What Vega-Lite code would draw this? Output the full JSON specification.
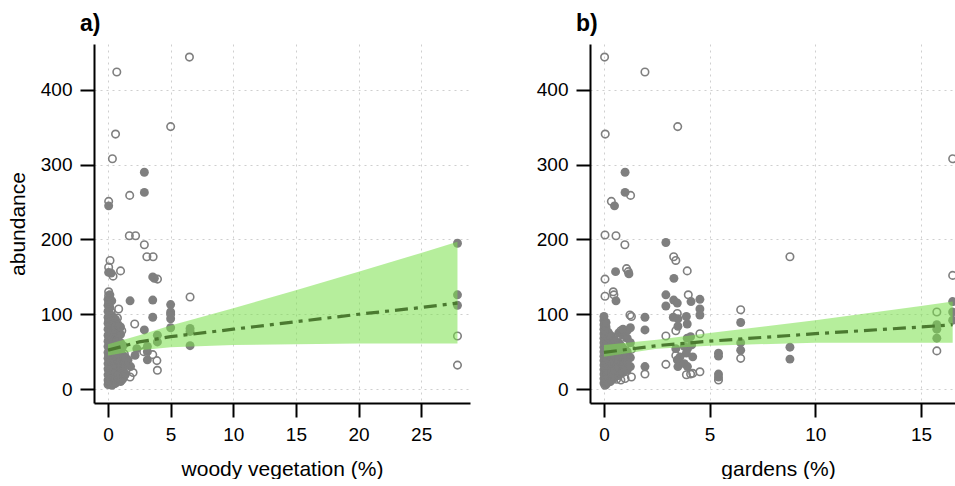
{
  "$schema": "https://vega.github.io/schema/vega-lite/v6.json",
  "padding": {"left": 7, "top": 13, "right": 0, "bottom": 0},
  "bounds": "flush",
  "spacing": 120,
  "config": {
    "view": {"stroke": null},
    "font": "Liberation Sans",
    "axis": {
      "domainColor": "black", "domainWidth": 2, "tickColor": "black", "tickWidth": 2, "tickSize": 14,
      "labelFont": "Liberation Sans", "labelFontSize": 19, "labelColor": "black", "labelPadding": 8,
      "titleFont": "Liberation Sans", "titleFontSize": 21, "titleFontWeight": "normal", "titleColor": "black",
      "gridColor": "#cfcfcf", "gridDash": [2, 4], "gridWidth": 1
    },
    "title": {"font": "Liberation Sans", "fontSize": 23, "fontWeight": "bold", "color": "black", "anchor": "start", "frame": "group", "dx": -14, "offset": 8}
  },
  "datasets": {
    "woody": [
      {"x":0.7,"y":424,"t":"o"},{"x":6.5,"y":444,"t":"o"},{"x":0.6,"y":341,"t":"o"},{"x":0.35,"y":308,"t":"o"},{"x":5.0,"y":351,"t":"o"},
      {"x":2.9,"y":290,"t":"f"},{"x":2.9,"y":263,"t":"f"},{"x":1.73,"y":259,"t":"o"},{"x":0.05,"y":251,"t":"o"},{"x":0.05,"y":245,"t":"f"},
      {"x":1.7,"y":205,"t":"o"},{"x":2.2,"y":205,"t":"o"},{"x":2.9,"y":193,"t":"o"},{"x":3.1,"y":177,"t":"o"},{"x":3.6,"y":177,"t":"o"},
      {"x":0.16,"y":172,"t":"o"},{"x":0.05,"y":163,"t":"o"},{"x":0.05,"y":156,"t":"f"},{"x":0.25,"y":155,"t":"f"},{"x":0.4,"y":151,"t":"o"},
      {"x":1.0,"y":158,"t":"o"},{"x":3.57,"y":150,"t":"f"},{"x":3.7,"y":148,"t":"f"},{"x":3.95,"y":147,"t":"o"},{"x":0.05,"y":130,"t":"o"},
      {"x":1.76,"y":118,"t":"f"},{"x":3.57,"y":119,"t":"f"},{"x":5.0,"y":113,"t":"f"},{"x":5.0,"y":103,"t":"f"},{"x":5.0,"y":100,"t":"o"},
      {"x":5.0,"y":94,"t":"f"},{"x":3.57,"y":96,"t":"f"},{"x":0.85,"y":107,"t":"o"},{"x":2.13,"y":87,"t":"o"},{"x":5.0,"y":82,"t":"f"},
      {"x":2.9,"y":79,"t":"f"},{"x":3.94,"y":72,"t":"f"},{"x":3.94,"y":63,"t":"f"},{"x":2.3,"y":54,"t":"f"},{"x":2.16,"y":45,"t":"f"},
      {"x":2.85,"y":50,"t":"o"},{"x":3.14,"y":57,"t":"f"},{"x":3.14,"y":50,"t":"f"},{"x":3.14,"y":39,"t":"f"},{"x":3.57,"y":46,"t":"o"},
      {"x":3.9,"y":38,"t":"o"},{"x":3.94,"y":25,"t":"o"},{"x":1.6,"y":39,"t":"f"},{"x":1.8,"y":30,"t":"f"},{"x":1.76,"y":16,"t":"o"},
      {"x":6.55,"y":123,"t":"o"},{"x":6.55,"y":81,"t":"f"},{"x":6.55,"y":77,"t":"f"},{"x":6.55,"y":58,"t":"f"},
      {"x":27.9,"y":195,"t":"f"},{"x":27.9,"y":126,"t":"f"},{"x":27.9,"y":112,"t":"f"},{"x":27.9,"y":71,"t":"o"},{"x":27.9,"y":32,"t":"o"},
      {"x":0,"y":6,"t":"f"},{"x":0,"y":12,"t":"f"},{"x":0,"y":19,"t":"f"},{"x":0,"y":27,"t":"f"},{"x":0,"y":34,"t":"f"},{"x":0,"y":41,"t":"f"},
      {"x":0,"y":49,"t":"f"},{"x":0,"y":57,"t":"f"},{"x":0,"y":64,"t":"f"},{"x":0,"y":72,"t":"f"},{"x":0,"y":80,"t":"f"},{"x":0,"y":88,"t":"f"},
      {"x":0,"y":96,"t":"f"},{"x":0,"y":104,"t":"f"},{"x":0,"y":112,"t":"f"},{"x":0,"y":120,"t":"f"},
      {"x":0.15,"y":9,"t":"f"},{"x":0.15,"y":16,"t":"f"},{"x":0.15,"y":23,"t":"f"},{"x":0.15,"y":31,"t":"f"},{"x":0.15,"y":38,"t":"f"},
      {"x":0.15,"y":46,"t":"f"},{"x":0.15,"y":53,"t":"f"},{"x":0.15,"y":61,"t":"f"},{"x":0.15,"y":69,"t":"f"},{"x":0.15,"y":77,"t":"f"},
      {"x":0.15,"y":85,"t":"f"},{"x":0.15,"y":92,"t":"f"},{"x":0.15,"y":100,"t":"f"},{"x":0.15,"y":109,"t":"f"},{"x":0.15,"y":126,"t":"f"},
      {"x":0.3,"y":5,"t":"f"},{"x":0.3,"y":14,"t":"f"},{"x":0.3,"y":21,"t":"f"},{"x":0.3,"y":29,"t":"f"},{"x":0.3,"y":36,"t":"f"},
      {"x":0.3,"y":44,"t":"f"},{"x":0.3,"y":51,"t":"f"},{"x":0.3,"y":59,"t":"f"},{"x":0.3,"y":67,"t":"f"},{"x":0.3,"y":74,"t":"f"},
      {"x":0.3,"y":82,"t":"f"},{"x":0.3,"y":90,"t":"f"},{"x":0.3,"y":98,"t":"f"},{"x":0.3,"y":118,"t":"f"},
      {"x":0.45,"y":11,"t":"f"},{"x":0.45,"y":18,"t":"f"},{"x":0.45,"y":26,"t":"f"},{"x":0.45,"y":33,"t":"f"},{"x":0.45,"y":40,"t":"f"},
      {"x":0.45,"y":48,"t":"f"},{"x":0.45,"y":56,"t":"f"},{"x":0.45,"y":63,"t":"f"},{"x":0.45,"y":71,"t":"f"},{"x":0.45,"y":79,"t":"f"},
      {"x":0.45,"y":87,"t":"f"},{"x":0.45,"y":95,"t":"f"},
      {"x":0.6,"y":8,"t":"f"},{"x":0.6,"y":15,"t":"f"},{"x":0.6,"y":24,"t":"f"},{"x":0.6,"y":35,"t":"f"},{"x":0.6,"y":43,"t":"f"},
      {"x":0.6,"y":52,"t":"f"},{"x":0.6,"y":60,"t":"f"},{"x":0.6,"y":68,"t":"f"},{"x":0.6,"y":76,"t":"f"},{"x":0.6,"y":84,"t":"f"},{"x":0.6,"y":93,"t":"f"},
      {"x":0.8,"y":12,"t":"f"},{"x":0.8,"y":22,"t":"f"},{"x":0.8,"y":30,"t":"f"},{"x":0.8,"y":39,"t":"f"},{"x":0.8,"y":47,"t":"f"},
      {"x":0.8,"y":55,"t":"f"},{"x":0.8,"y":66,"t":"f"},{"x":0.8,"y":75,"t":"f"},{"x":0.8,"y":86,"t":"f"},
      {"x":1.0,"y":10,"t":"f"},{"x":1.0,"y":19,"t":"f"},{"x":1.0,"y":28,"t":"f"},{"x":1.0,"y":37,"t":"f"},{"x":1.0,"y":50,"t":"f"},
      {"x":1.0,"y":62,"t":"f"},{"x":1.0,"y":73,"t":"f"},{"x":1.0,"y":83,"t":"f"},
      {"x":1.2,"y":14,"t":"f"},{"x":1.2,"y":25,"t":"f"},{"x":1.2,"y":35,"t":"f"},{"x":1.2,"y":45,"t":"f"},{"x":1.2,"y":58,"t":"f"},
      {"x":1.4,"y":20,"t":"f"},{"x":1.4,"y":32,"t":"f"},{"x":1.4,"y":42,"t":"f"},
      {"x":0.05,"y":8,"t":"o"},{"x":0.05,"y":25,"t":"o"},{"x":0.05,"y":45,"t":"o"},{"x":0.05,"y":70,"t":"o"},{"x":0.05,"y":92,"t":"o"},
      {"x":0.05,"y":115,"t":"o"},{"x":0.05,"y":125,"t":"o"},
      {"x":0.25,"y":13,"t":"o"},{"x":0.25,"y":37,"t":"o"},{"x":0.25,"y":62,"t":"o"},{"x":0.25,"y":85,"t":"o"},{"x":0.25,"y":103,"t":"o"},
      {"x":0.5,"y":7,"t":"o"},{"x":0.5,"y":30,"t":"o"},{"x":0.5,"y":55,"t":"o"},{"x":0.5,"y":78,"t":"o"},
      {"x":0.75,"y":17,"t":"o"},{"x":0.75,"y":40,"t":"o"},{"x":0.75,"y":65,"t":"o"},{"x":0.75,"y":95,"t":"o"},
      {"x":1.1,"y":12,"t":"o"},{"x":1.1,"y":30,"t":"o"},{"x":1.1,"y":55,"t":"o"},{"x":1.1,"y":78,"t":"o"},
      {"x":1.3,"y":18,"t":"o"},{"x":1.3,"y":47,"t":"o"},{"x":2.0,"y":22,"t":"o"}
    ],
    "gardens": [
      {"x":0.03,"y":444,"t":"o"},{"x":1.94,"y":424,"t":"o"},{"x":0.06,"y":341,"t":"o"},{"x":3.49,"y":351,"t":"o"},
      {"x":1.0,"y":290,"t":"f"},{"x":1.0,"y":263,"t":"f"},{"x":1.26,"y":259,"t":"o"},{"x":0.35,"y":251,"t":"o"},{"x":0.5,"y":245,"t":"f"},
      {"x":0.05,"y":206,"t":"o"},{"x":0.57,"y":205,"t":"o"},{"x":0.99,"y":193,"t":"o"},{"x":2.93,"y":196,"t":"f"},
      {"x":3.3,"y":177,"t":"o"},{"x":3.4,"y":172,"t":"o"},{"x":3.94,"y":158,"t":"o"},{"x":3.31,"y":148,"t":"f"},
      {"x":0.05,"y":147,"t":"o"},{"x":0.55,"y":157,"t":"f"},{"x":1.07,"y":161,"t":"o"},{"x":1.15,"y":157,"t":"o"},{"x":1.18,"y":154,"t":"f"},
      {"x":0.05,"y":124,"t":"o"},{"x":0.44,"y":130,"t":"o"},{"x":0.47,"y":126,"t":"o"},{"x":0.57,"y":118,"t":"f"},
      {"x":1.23,"y":99,"t":"o"},{"x":1.94,"y":96,"t":"f"},{"x":1.94,"y":79,"t":"f"},{"x":2.93,"y":71,"t":"o"},
      {"x":1.94,"y":30,"t":"f"},{"x":1.94,"y":20,"t":"o"},{"x":2.93,"y":33,"t":"o"},
      {"x":2.93,"y":126,"t":"f"},{"x":3.99,"y":126,"t":"o"},{"x":3.3,"y":119,"t":"f"},{"x":3.47,"y":115,"t":"f"},{"x":4.12,"y":117,"t":"f"},
      {"x":4.54,"y":120,"t":"f"},{"x":2.93,"y":111,"t":"f"},{"x":4.54,"y":107,"t":"f"},{"x":4.54,"y":99,"t":"f"},{"x":3.47,"y":101,"t":"o"},
      {"x":3.28,"y":96,"t":"f"},{"x":3.5,"y":94,"t":"f"},{"x":3.9,"y":97,"t":"f"},{"x":3.5,"y":84,"t":"f"},{"x":3.94,"y":87,"t":"f"},
      {"x":3.4,"y":78,"t":"o"},{"x":4.54,"y":74,"t":"o"},{"x":3.94,"y":68,"t":"f"},{"x":4.1,"y":70,"t":"f"},{"x":3.8,"y":57,"t":"f"},
      {"x":3.95,"y":54,"t":"f"},{"x":4.15,"y":59,"t":"f"},{"x":3.4,"y":54,"t":"f"},{"x":3.4,"y":45,"t":"o"},{"x":3.9,"y":48,"t":"f"},
      {"x":4.2,"y":43,"t":"f"},{"x":3.6,"y":43,"t":"f"},{"x":3.47,"y":39,"t":"f"},{"x":3.5,"y":30,"t":"f"},{"x":3.8,"y":34,"t":"f"},
      {"x":3.95,"y":30,"t":"f"},{"x":3.9,"y":19,"t":"o"},{"x":4.1,"y":20,"t":"o"},{"x":4.2,"y":21,"t":"o"},{"x":4.54,"y":23,"t":"o"},
      {"x":5.42,"y":48,"t":"f"},{"x":5.42,"y":44,"t":"f"},{"x":5.42,"y":20,"t":"f"},{"x":5.42,"y":16,"t":"f"},{"x":5.42,"y":12,"t":"o"},
      {"x":6.47,"y":106,"t":"o"},{"x":6.47,"y":89,"t":"f"},{"x":6.47,"y":62,"t":"f"},{"x":6.47,"y":52,"t":"f"},{"x":6.47,"y":41,"t":"o"},
      {"x":8.8,"y":177,"t":"o"},{"x":8.8,"y":56,"t":"f"},{"x":8.8,"y":40,"t":"f"},
      {"x":15.75,"y":103,"t":"o"},{"x":15.75,"y":86,"t":"f"},{"x":15.75,"y":80,"t":"f"},{"x":15.75,"y":68,"t":"f"},{"x":15.75,"y":51,"t":"o"},
      {"x":16.5,"y":308,"t":"o"},{"x":16.5,"y":152,"t":"o"},{"x":16.5,"y":117,"t":"f"},{"x":16.5,"y":103,"t":"f"},{"x":16.5,"y":92,"t":"f"},
      {"x":0,"y":8,"t":"f"},{"x":0,"y":14,"t":"f"},{"x":0,"y":20,"t":"f"},{"x":0,"y":26,"t":"f"},{"x":0,"y":32,"t":"f"},{"x":0,"y":38,"t":"f"},
      {"x":0,"y":44,"t":"f"},{"x":0,"y":50,"t":"f"},{"x":0,"y":56,"t":"f"},{"x":0,"y":62,"t":"f"},{"x":0,"y":68,"t":"f"},{"x":0,"y":74,"t":"f"},
      {"x":0,"y":80,"t":"f"},{"x":0,"y":86,"t":"f"},{"x":0,"y":92,"t":"f"},{"x":0,"y":97,"t":"f"},
      {"x":0.1,"y":6,"t":"f"},{"x":0.1,"y":11,"t":"f"},{"x":0.1,"y":17,"t":"f"},{"x":0.1,"y":23,"t":"f"},{"x":0.1,"y":29,"t":"f"},
      {"x":0.1,"y":35,"t":"f"},{"x":0.1,"y":41,"t":"f"},{"x":0.1,"y":47,"t":"f"},{"x":0.1,"y":53,"t":"f"},{"x":0.1,"y":59,"t":"f"},
      {"x":0.1,"y":65,"t":"f"},{"x":0.1,"y":71,"t":"f"},{"x":0.1,"y":77,"t":"f"},{"x":0.1,"y":83,"t":"f"},{"x":0.1,"y":89,"t":"f"},
      {"x":0.2,"y":9,"t":"f"},{"x":0.2,"y":16,"t":"f"},{"x":0.2,"y":24,"t":"f"},{"x":0.2,"y":31,"t":"f"},{"x":0.2,"y":39,"t":"f"},
      {"x":0.2,"y":46,"t":"f"},{"x":0.2,"y":54,"t":"f"},{"x":0.2,"y":61,"t":"f"},{"x":0.2,"y":69,"t":"f"},{"x":0.2,"y":76,"t":"f"},
      {"x":0.35,"y":12,"t":"f"},{"x":0.35,"y":21,"t":"f"},{"x":0.35,"y":30,"t":"f"},{"x":0.35,"y":40,"t":"f"},{"x":0.35,"y":50,"t":"f"},
      {"x":0.35,"y":60,"t":"f"},{"x":0.35,"y":70,"t":"f"},
      {"x":0.5,"y":15,"t":"f"},{"x":0.5,"y":25,"t":"f"},{"x":0.5,"y":35,"t":"f"},{"x":0.5,"y":45,"t":"f"},{"x":0.5,"y":57,"t":"f"},{"x":0.5,"y":66,"t":"f"},
      {"x":0.7,"y":18,"t":"f"},{"x":0.7,"y":28,"t":"f"},{"x":0.7,"y":38,"t":"f"},{"x":0.7,"y":48,"t":"f"},{"x":0.7,"y":62,"t":"f"},{"x":0.7,"y":75,"t":"f"},
      {"x":0.9,"y":22,"t":"f"},{"x":0.9,"y":33,"t":"f"},{"x":0.9,"y":43,"t":"f"},{"x":0.9,"y":55,"t":"f"},{"x":0.9,"y":72,"t":"f"},{"x":0.9,"y":80,"t":"f"},
      {"x":1.1,"y":25,"t":"f"},{"x":1.1,"y":37,"t":"f"},{"x":1.1,"y":50,"t":"f"},{"x":1.1,"y":68,"t":"f"},{"x":1.1,"y":78,"t":"f"},
      {"x":1.25,"y":30,"t":"f"},{"x":1.25,"y":42,"t":"f"},{"x":1.25,"y":62,"t":"f"},{"x":1.25,"y":82,"t":"f"},
      {"x":0.05,"y":5,"t":"o"},{"x":0.05,"y":20,"t":"o"},{"x":0.05,"y":40,"t":"o"},{"x":0.05,"y":63,"t":"o"},{"x":0.05,"y":88,"t":"o"},
      {"x":0.3,"y":10,"t":"o"},{"x":0.3,"y":35,"t":"o"},{"x":0.3,"y":55,"t":"o"},{"x":0.3,"y":72,"t":"o"},
      {"x":0.6,"y":13,"t":"o"},{"x":0.6,"y":30,"t":"o"},{"x":0.6,"y":52,"t":"o"},{"x":0.6,"y":70,"t":"o"},
      {"x":0.8,"y":12,"t":"o"},{"x":0.8,"y":35,"t":"o"},{"x":0.8,"y":58,"t":"o"},{"x":0.8,"y":78,"t":"o"},
      {"x":1.0,"y":14,"t":"o"},{"x":1.0,"y":44,"t":"o"},{"x":1.0,"y":60,"t":"o"},
      {"x":1.3,"y":16,"t":"o"},{"x":1.3,"y":53,"t":"o"},{"x":1.3,"y":97,"t":"o"}
    ],
    "fitA": [
      {"x":0,"fit":52,"lo":45,"hi":60},{"x":2.5,"fit":63,"lo":52,"hi":72},{"x":5,"fit":70,"lo":56,"hi":85},
      {"x":10,"fit":80,"lo":59,"hi":108},{"x":15,"fit":90,"lo":60,"hi":132},{"x":20,"fit":100,"lo":61,"hi":157},
      {"x":25,"fit":109,"lo":61,"hi":182},{"x":27.9,"fit":115,"lo":61,"hi":197}
    ],
    "fitB": [
      {"x":0,"fit":49,"lo":43,"hi":59},{"x":2.5,"fit":58,"lo":54,"hi":66},{"x":5,"fit":64,"lo":58,"hi":75},
      {"x":10,"fit":74,"lo":62,"hi":92},{"x":15,"fit":83,"lo":62,"hi":111},{"x":16.5,"fit":86,"lo":62,"hi":117}
    ]
  },
  "hconcat": [
    {
      "width": 376, "height": 359,
      "title": {"text": "a)"},
      "layer": [
        {
          "data": {"name": "woody"},
          "transform": [{"filter": "datum.t == 'f'"}],
          "mark": {"type": "point", "shape": "circle", "filled": true, "color": "#7f7f7f", "opacity": 1, "size": 80},
          "encoding": {
            "x": {"field": "x", "type": "quantitative", "scale": {"domain": [-1.12, 28.9], "nice": false, "zero": false},
                  "axis": {"values": [0, 5, 10, 15, 20, 25], "title": "woody vegetation (%)", "titlePadding": 14}},
            "y": {"field": "y", "type": "quantitative", "scale": {"domain": [-18.7, 461.5], "nice": false, "zero": false},
                  "axis": {"values": [0, 100, 200, 300, 400], "title": "abundance", "titlePadding": 12}}
          }
        },
        {
          "data": {"name": "woody"},
          "transform": [{"filter": "datum.t == 'o'"}],
          "mark": {"type": "point", "shape": "circle", "filled": false, "color": "#7f7f7f", "opacity": 1, "strokeWidth": 1.6, "size": 56},
          "encoding": {
            "x": {"field": "x", "type": "quantitative"},
            "y": {"field": "y", "type": "quantitative"}
          }
        },
        {
          "data": {"name": "fitA"},
          "mark": {"type": "area", "color": "#7ae04a", "opacity": 0.55},
          "encoding": {
            "x": {"field": "x", "type": "quantitative"},
            "y": {"field": "hi", "type": "quantitative"},
            "y2": {"field": "lo"}
          }
        },
        {
          "data": {"name": "fitA"},
          "mark": {"type": "line", "color": "#4b7a30", "strokeWidth": 3.2, "strokeDash": [13, 6, 4, 6]},
          "encoding": {
            "x": {"field": "x", "type": "quantitative"},
            "y": {"field": "fit", "type": "quantitative"}
          }
        }
      ]
    },
    {
      "width": 365, "height": 359,
      "title": {"text": "b)"},
      "layer": [
        {
          "data": {"name": "gardens"},
          "transform": [{"filter": "datum.t == 'f'"}],
          "mark": {"type": "point", "shape": "circle", "filled": true, "color": "#7f7f7f", "opacity": 1, "size": 80, "clip": true},
          "encoding": {
            "x": {"field": "x", "type": "quantitative", "scale": {"domain": [-0.66, 16.61], "nice": false, "zero": false},
                  "axis": {"values": [0, 5, 10, 15], "title": "gardens (%)", "titlePadding": 14, "titleX": 188}},
            "y": {"field": "y", "type": "quantitative", "scale": {"domain": [-18.7, 461.5], "nice": false, "zero": false},
                  "axis": {"values": [0, 100, 200, 300, 400], "title": null}}
          }
        },
        {
          "data": {"name": "gardens"},
          "transform": [{"filter": "datum.t == 'o'"}],
          "mark": {"type": "point", "shape": "circle", "filled": false, "color": "#7f7f7f", "opacity": 1, "strokeWidth": 1.6, "size": 56, "clip": true},
          "encoding": {
            "x": {"field": "x", "type": "quantitative"},
            "y": {"field": "y", "type": "quantitative"}
          }
        },
        {
          "data": {"name": "fitB"},
          "mark": {"type": "area", "color": "#7ae04a", "opacity": 0.55, "clip": true},
          "encoding": {
            "x": {"field": "x", "type": "quantitative"},
            "y": {"field": "hi", "type": "quantitative"},
            "y2": {"field": "lo"}
          }
        },
        {
          "data": {"name": "fitB"},
          "mark": {"type": "line", "color": "#4b7a30", "strokeWidth": 3.2, "strokeDash": [13, 6, 4, 6], "clip": true},
          "encoding": {
            "x": {"field": "x", "type": "quantitative"},
            "y": {"field": "fit", "type": "quantitative"}
          }
        }
      ]
    }
  ]
}
